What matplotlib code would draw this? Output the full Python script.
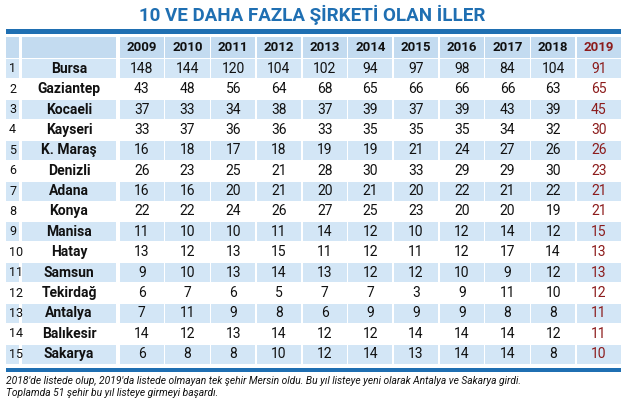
import matplotlib
matplotlib.use("Agg")
import matplotlib.pyplot as plt
from matplotlib.patches import Rectangle

years = ["2009","2010","2011","2012","2013","2014","2015","2016","2017","2018","2019"]
cities = ["Bursa","Gaziantep","Kocaeli","Kayseri","K. Maraş","Denizli","Adana","Konya",
          "Manisa","Hatay","Samsun","Tekirdağ","Antalya","Balıkesir","Sakarya"]
values = [
    [148,144,120,104,102,94,97,98,84,104,91],
    [43,48,56,64,68,65,66,66,66,63,65],
    [37,33,34,38,37,39,37,39,43,39,45],
    [33,37,36,36,33,35,35,35,34,32,30],
    [16,18,17,18,19,19,21,24,27,26,26],
    [26,23,25,21,28,30,33,29,29,30,23],
    [16,16,20,21,20,21,20,22,21,22,21],
    [22,22,24,26,27,25,23,20,20,19,21],
    [11,10,10,11,14,12,10,12,14,12,15],
    [13,12,13,15,11,12,11,12,17,14,13],
    [9,10,13,14,13,12,12,10,9,12,13],
    [6,7,6,5,7,7,3,9,11,10,12],
    [7,11,9,8,6,9,9,9,8,8,11],
    [14,12,13,14,12,12,14,14,14,12,11],
    [6,8,8,10,12,14,13,14,14,8,10],
]
title = "10 VE DAHA FAZLA ŞİRKETİ OLAN İLLER"
notes = ["2018'de listede olup, 2019'da listede olmayan tek şehir Mersin oldu. Bu yıl listeye yeni olarak Antalya ve Sakarya girdi.",
         "Toplamda 51 şehir bu yıl listeye girmeyi başardı."]

BLUE = "#1f6fb2"; LIGHT = "#d3e6f6"; HEAD = "#c3dbf0"; RED = "#8c1c1c"; TXT = "#111111"
FAM = ["Roboto", "DejaVu Sans"]

fig = plt.figure(figsize=(6.25, 4), dpi=100)
ax = fig.add_axes([0, 0, 1, 1])
ax.set_xlim(0, 625); ax.set_ylim(400, 0); ax.axis("off")

ax.text(312, 15, title, ha="center", va="center", fontsize=13.5, fontweight="bold",
        color=BLUE, family=FAM)
ax.add_patch(Rectangle((6, 29), 615, 5, color=BLUE, lw=0))

col0, cw = 119, 45.7
rank_x, city_x = (6, 20), (22, 116)
top, hh, rh = 36, 22.5, 20.4
g = 1.5

def row_cells(y, h, color):
    ax.add_patch(Rectangle((rank_x[0], y + g/2), rank_x[1] - rank_x[0] - g, h - g, color=color, lw=0))
    ax.add_patch(Rectangle((city_x[0], y + g/2), city_x[1] - city_x[0], h - g, color=color, lw=0))
    for j in range(len(years)):
        ax.add_patch(Rectangle((col0 + j*cw + g/2, y + g/2), cw - g, h - g, color=color, lw=0))

row_cells(top, hh, HEAD)
for j, yr in enumerate(years):
    ax.text(col0 + j*cw + cw/2, top + hh/2, yr, ha="center", va="center", fontsize=9.5,
            fontweight="bold", color=RED if j == len(years)-1 else TXT, family=FAM)

for i, (c, vals) in enumerate(zip(cities, values)):
    y = top + hh + i*rh
    if i % 2 == 0:
        row_cells(y, rh, LIGHT)
    cy = y + rh/2
    ax.text(9, cy, str(i+1), ha="left", va="center", fontsize=9, color=TXT, family=FAM)
    ax.text((city_x[0]+city_x[1])/2, cy, c, ha="center", va="center", fontsize=10,
            fontweight="bold", color=TXT, family=FAM)
    for j, v in enumerate(vals):
        ax.text(col0 + j*cw + cw/2, cy, str(v), ha="center", va="center", fontsize=10,
                color=RED if j == len(vals)-1 else TXT, family=FAM)

yb = top + hh + len(cities)*rh + 3
ax.add_patch(Rectangle((6, yb), 615, 4, color=BLUE, lw=0))
ax.text(6, yb + 14, notes[0], ha="left", va="center", fontsize=7.4, style="italic", color=TXT, family=FAM)
ax.text(6, yb + 26, notes[1], ha="left", va="center", fontsize=7.4, style="italic", color=TXT, family=FAM)

fig.savefig("out.png", dpi=100, facecolor="white")
